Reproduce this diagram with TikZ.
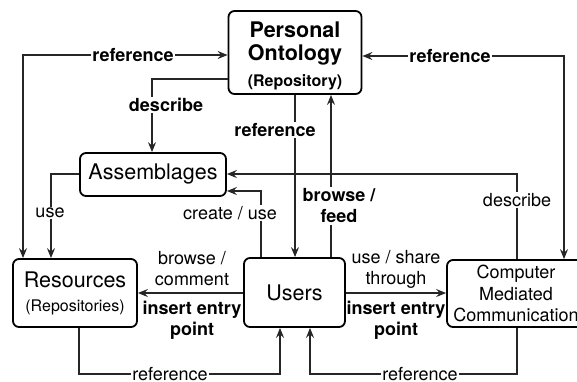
\documentclass[tikz,border=0pt]{standalone}
\usepackage{fontspec}
\setmainfont{TeX Gyre Heros}
\usetikzlibrary{arrows.meta}
\begin{document}
\begin{tikzpicture}[x=1pt,y=-1pt,
  >={Stealth[length=10pt,width=8pt,inset=3.5pt]},
  box/.style={draw=black,line width=1.8pt,rounded corners=6pt,inner sep=0pt,align=center},
  conn/.style={draw=black!85,line width=1.2pt},
  lbl/.style={fill=white,inner sep=1.5pt,font=\fontsize{18}{21}\selectfont,align=center},
  blbl/.style={lbl,font=\fontsize{18}{21}\selectfont\bfseries},
  plbl/.style={inner sep=0pt,font=\fontsize{18}{21}\selectfont,align=center},
  bplbl/.style={plbl,font=\fontsize{18}{21}\selectfont\bfseries},
  big/.style={font=\fontsize{21.5}{24}\selectfont}
]
\clip (0,0) rectangle (577,381);
\fill[white] (0,0) rectangle (577,381);

% boxes
\node[box,minimum width=133pt,minimum height=83pt,font=\fontsize{21.5}{23}\selectfont\bfseries] (po) at (295,52.5)
  {\rule{0pt}{22pt}Personal\\Ontology\\[3pt]{\fontsize{16}{18}\selectfont (Repository)}};
\node[box,minimum width=146pt,minimum height=43pt,big] (asm) at (153,174.5) {Assemblages};
\node[box,minimum width=124pt,minimum height=68pt,big] (res) at (75,293)
  {Resources\\{\fontsize{16}{18}\selectfont (Repositories)}};
\node[box,minimum width=101pt,minimum height=69pt,big] (usr) at (294.5,292.5) {Users};
\node[box,minimum width=138pt,minimum height=67pt,font=\fontsize{18}{21.5}\selectfont] (cmc) at (516,293.5)
  {Computer\\Mediated\\Communication};

% connectors
\draw[conn,<->] (po.west |- 0,55) -| (res.north -| 23,0);
\node[blbl] (lref1) at (133,55) {reference};

\draw[conn,<->] (po.east |- 0,56) -| (cmc.north -| 564,0);
\node[blbl] (lref2) at (450,56) {reference};

\draw[conn,->] (po.west |- 0,79) -| (asm.north -| 152,0);
\node[blbl] (ldesc1) at (166,105) {describe};

\draw[conn,->] (po.south -| 295,0) -- (usr.north -| 295,0);
\node[blbl] (lref3) at (275,130) {reference};

\draw[conn,->] (usr.north -| 331,0) -- (po.south -| 331,0);
\node[blbl] (lbrowse) at (339,206) {browse /\\feed};

\draw[conn,->] (usr.north -| 261,0) |- (asm.east |- 0,191);
\node[lbl] (lcreate) at (230,213) {create / use};

\draw[conn,->] (cmc.north -| 517,0) |- (asm.east |- 0,174);
\node[lbl] (ldesc2) at (517,200) {describe};

\draw[conn,->] (asm.west |- 0,174) -| (res.north -| 51,0);
\node[lbl] (luse) at (50,213) {use};

\draw[conn,->] (usr.west |- 0,293) -- (res.east |- 0,293);
\node[plbl] (lbc) at (192,269) {browse /\\comment};
\node[bplbl] (lins1) at (192,320) {insert entry\\point};

\draw[conn,->] (usr.east |- 0,293) -- (cmc.west |- 0,293);
\node[plbl] (lus) at (396,269) {use / share\\through};
\node[bplbl] (lins2) at (396,320) {insert entry\\point};

\draw[conn,->] (res.south -| 79,0) -- (79,374) -- (280,374) -- (usr.south -| 280,0);
\node[lbl] (lref4) at (170,374) {reference};

\draw[conn,->] (cmc.south -| 517,0) -- (517,374) -- (310,374) -- (usr.south -| 310,0);
\node[lbl] (lref5) at (420,374) {reference};
\end{tikzpicture}
\end{document}
